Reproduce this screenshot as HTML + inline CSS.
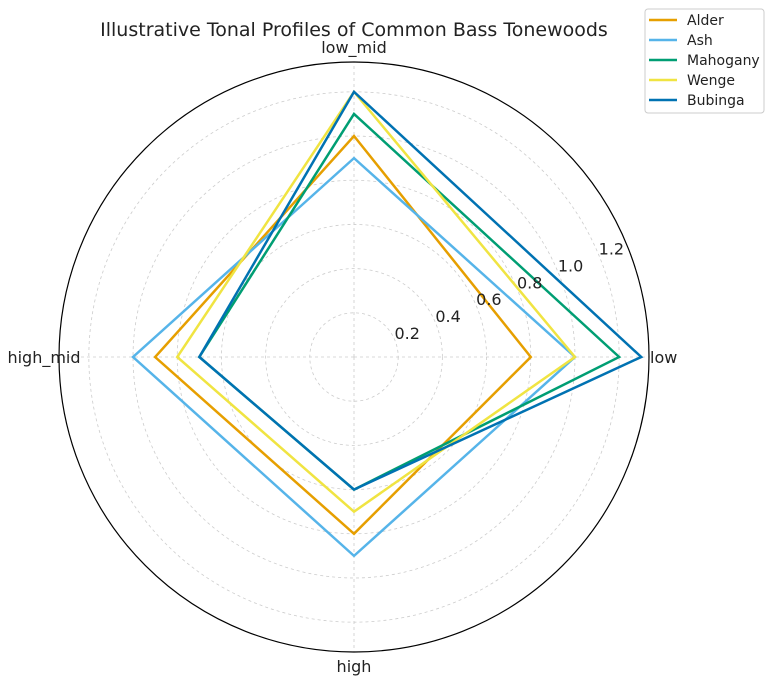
<!DOCTYPE html>
<html><head><meta charset="utf-8"><style>
body{margin:0;background:#fff;width:768px;height:686px;overflow:hidden;font-family:"Liberation Sans","DejaVu Sans",sans-serif}
</style></head><body>
<svg id="chart" width="768" height="686" xmlns="http://www.w3.org/2000/svg" font-family="DejaVu Sans, Liberation Sans, sans-serif"></svg>
<script>
const categories = ["low","low_mid","high_mid","high"];
const seriesNames = ["Alder","Ash","Mahogany","Wenge","Bubinga"];
const alder = [0.8,1.0,0.9,0.8];
const ash = [1.0,0.9,1.0,0.9];
const mahogany = [1.2,1.1,0.7,0.6];
const wenge = [1.0,1.2,0.8,0.7];
const bubinga = [1.3,1.2,0.7,0.6];
const radialTicks = [0.2,0.4,0.6,0.8,1.0,1.2];
const tickLabels = ["0.2","0.4","0.6","0.8","1.0","1.2"];
const colors = ["#E69F00","#56B4E9","#009E73","#F0E442","#0072B2"];
const allSeries = [alder,ash,mahogany,wenge,bubinga];

const NS="http://www.w3.org/2000/svg";
const svg=document.getElementById('chart');
const cx=354, cy=357, R=295, rMax=1.335;
const angles=[0,90,180,270];
function rScale(v){return v/rMax*R;}
function pt(v,i){const a=angles[i]*Math.PI/180;return [cx+rScale(v)*Math.cos(a), cy-rScale(v)*Math.sin(a)];}
function mk(tag,attrs){const e=document.createElementNS(NS,tag);for(const k in attrs)e.setAttribute(k,attrs[k]);svg.appendChild(e);return e;}

radialTicks.forEach((t,i)=>{
  const c=mk('circle',{cx:cx,cy:cy,r:rScale(t),fill:'none',stroke:'#cccccc','stroke-width':0.8,'stroke-dasharray':'3,3'});
  
  
});
angles.forEach((ang,i)=>{
  const p=pt(rMax,i);
  const l=mk('line',{x1:cx,y1:cy,x2:p[0],y2:p[1],stroke:'#cccccc','stroke-width':0.8,'stroke-dasharray':'3,3'});
  
  
});
const oc=mk('circle',{cx:cx,cy:cy,r:R,fill:'none',stroke:'#000','stroke-width':1.2});


const labPos=[[650,cy+6,'start'],[cx,cy-R-9,'middle'],[44,cy+6,'middle'],[cx,cy+R+20,'middle']];
categories.forEach((c,i)=>{
  const t=mk('text',{x:labPos[i][0],y:labPos[i][1],'text-anchor':labPos[i][2],'font-size':16,fill:'#222'});
  t.textContent=c;
  
  
});
allSeries.forEach((s,k)=>{
  const pts=s.map((v,i)=>pt(v,i).join(',')).join(' ');
  const p=mk('polygon',{points:pts,fill:'none',stroke:colors[k],'stroke-width':2.5,'stroke-linejoin':'miter'});
  
  
});
radialTicks.forEach((t,i)=>{
  const a=22.5*Math.PI/180, rr=rScale(t)+8;
  const tx=mk('text',{x:cx+rr*Math.cos(a)+5,y:cy-rr*Math.sin(a)+2,'font-size':16,fill:'#222','text-anchor':'middle'});
  tx.textContent=tickLabels[i];
  
  
});
const ti=mk('text',{x:354,y:36,'text-anchor':'middle','font-size':19,fill:'#222'});
ti.textContent='Illustrative Tonal Profiles of Common Bass Tonewoods';


const lb=mk('rect',{x:645,y:9,width:119,height:104,rx:3,fill:'#fff',stroke:'#cccccc','stroke-width':1});


seriesNames.forEach((n,k)=>{
  const y=20+k*20;
  const l=mk('line',{x1:649,y1:y,x2:677,y2:y,stroke:colors[k],'stroke-width':2.5});
  
  
  const t=mk('text',{x:687,y:y+5,'font-size':14,fill:'#222'});
  t.textContent=n;
  
  
});
</script>
</body></html>
